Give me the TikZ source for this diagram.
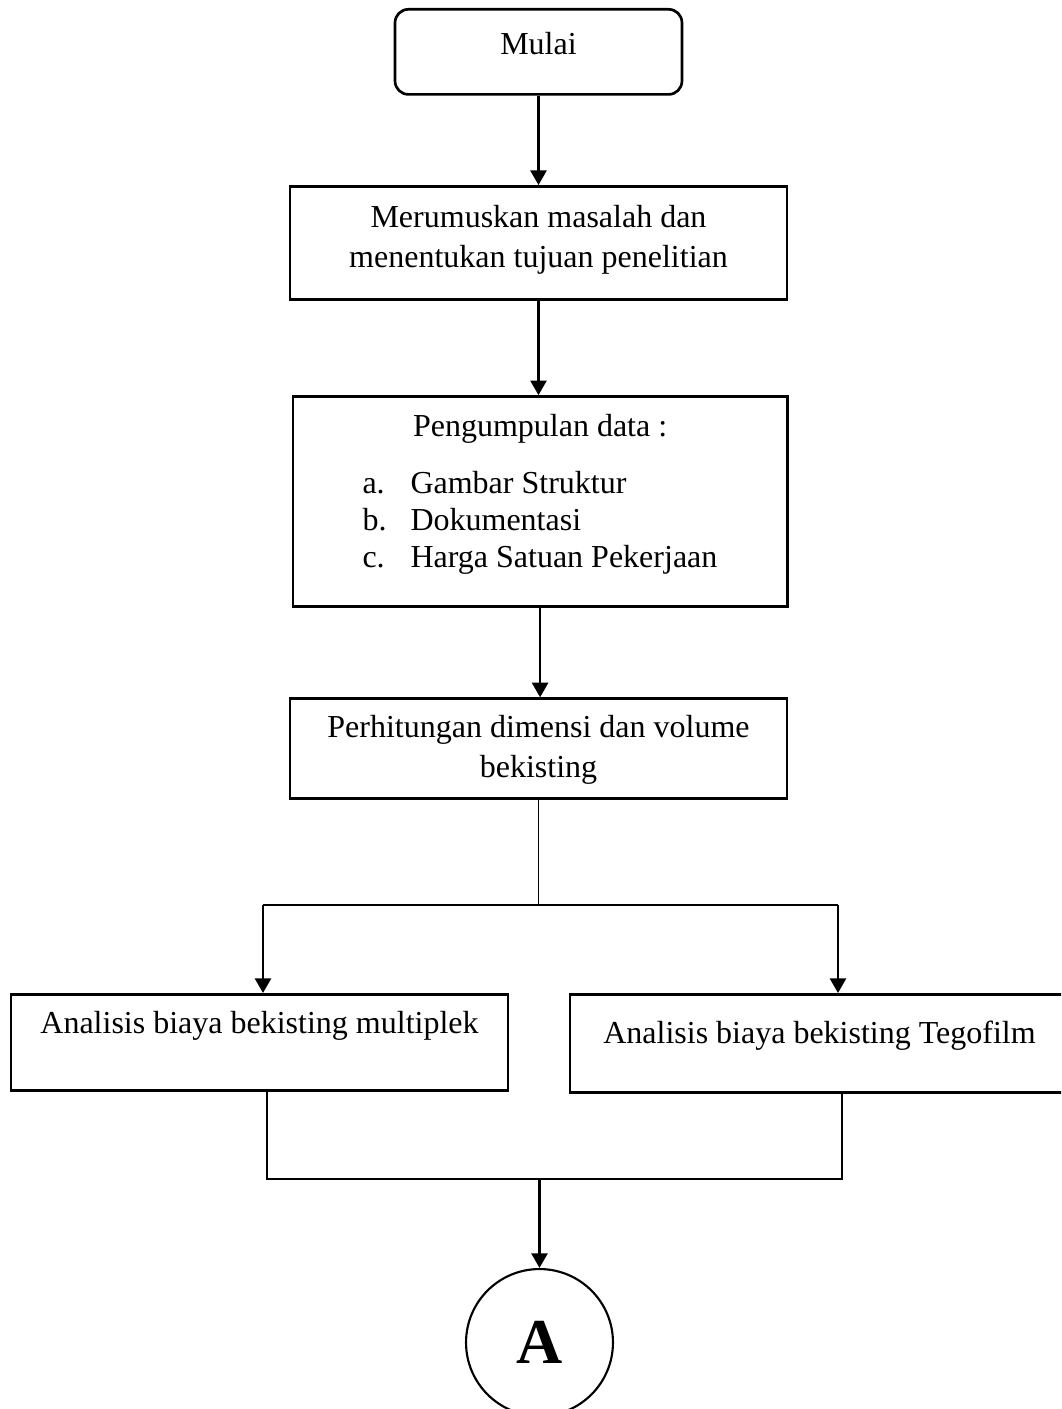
\documentclass[tikz,border=0pt]{standalone}
\usepackage{fontspec}
\setmainfont{Liberation Serif}
\usetikzlibrary{arrows.meta}
\usetikzlibrary{positioning}
\newcommand{\baris}[1]{\begin{tabular}[t]{@{}c@{}}#1\end{tabular}}
\tikzset{
  kotak/.style={draw, line width=1pt, fill=white, inner xsep=0pt, inner ysep=0pt},
  panah/.style={line width=1pt, -{Triangle[width=6pt,length=5.5pt]}},
  garis/.style={line width=0.5pt},
}
\begin{document}
\begin{tikzpicture}[x=0.375pt, y=-0.375pt, font=\fontsize{12}{15}\selectfont]
    \useasboundingbox (0,0) rectangle (1061,1409);
    \clip (0,0) rectangle (1061,1409);

    \node[kotak, rounded corners=5pt, anchor=north, minimum width=107.6pt,
      text height=16.9pt, text depth=15pt] (mulai) at (538.5,8) {Mulai};
    \node[kotak, below=33.5pt of mulai, minimum width=186.4pt,
      text height=15.4pt, text depth=27pt] (rumusan)
      {\baris{Merumuskan masalah dan\\menentukan tujuan penelitian}};
    \node[kotak, below=35.4pt of rumusan, xshift=0.6pt, minimum width=185.3pt,
      text height=15pt, text depth=63.8pt] (pengumpulan) {Pengumpulan data :};
    \node[anchor=base west, inner sep=0pt, font=\fontsize{12}{13.9}\selectfont] (daftar) at (362,493)
      {\begin{tabular}[t]{@{}p{18pt}@{}l@{}}
        a. & Gambar Struktur\\
        b. & Dokumentasi\\
        c. & Harga Satuan Pekerjaan
      \end{tabular}};
    \node[kotak, below=33.5pt of pengumpulan, xshift=-0.6pt, minimum width=186.4pt,
      text height=14.6pt, text depth=22.9pt] (perhitungan)
      {\baris{Perhitungan dimensi dan volume\\bekisting}};

    \node[kotak, anchor=north, minimum width=186.4pt,
      text height=14.6pt, text depth=21.4pt] (multiplek) at (259.5,993)
      {Analisis biaya bekisting multiplek};
    \node[kotak, anchor=north, minimum width=187.1pt,
      text height=18.4pt, text depth=18.4pt] (tegofilm) at (819.5,993)
      {Analisis biaya bekisting Tegofilm};
    \node[circle, draw, line width=0.8pt, minimum size=55.1pt, inner sep=0pt,
      font=\fontsize{24}{28}\selectfont\bfseries] (konektor) at (539.5,1342.5) {A};

    % cabang ke dua analisis
    \coordinate (cabangkiri) at (263,905);
    \coordinate (cabangkanan) at (838,905);
    \coordinate (gabungkiri) at (267,1179);
    \coordinate (gabungkanan) at (842,1179);

    \draw[panah] (mulai.south) -- (rumusan.north);
    \draw[panah] (rumusan.south) -- (rumusan.south |- pengumpulan.north);
    \draw[panah] (pengumpulan.south) -- (pengumpulan.south |- perhitungan.north);
    \draw[garis] (perhitungan.south) -- (perhitungan.south |- cabangkiri);
    \draw[garis] (cabangkiri) -- (cabangkanan);
    \draw[panah] (cabangkiri) -- (cabangkiri |- multiplek.north);
    \draw[panah] (cabangkanan) -- (cabangkanan |- tegofilm.north);
    \draw[garis] (gabungkiri |- multiplek.south) -- (gabungkiri) -- (gabungkanan)
      -- (gabungkanan |- tegofilm.south);
    \draw[panah] (konektor.north |- gabungkiri) -- (konektor.north);
\end{tikzpicture}
\end{document}
